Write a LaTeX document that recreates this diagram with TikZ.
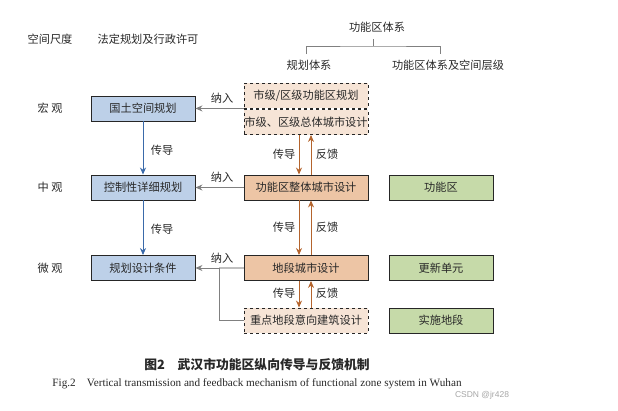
\documentclass[tikz,border=0pt]{standalone}
\usepackage{fontspec}
\setmainfont{Noto Sans CJK SC}
\newfontfamily\capfont{Liberation Serif}
\newfontfamily\markfont{Liberation Sans}
\usepackage{xcolor}
\definecolor{BlueFill}{RGB}{189,208,232}
\definecolor{BlueLine}{RGB}{58,106,170}
\definecolor{PeachFill}{RGB}{237,197,165}
\definecolor{PaleFill}{RGB}{246,228,214}
\definecolor{GreenFill}{RGB}{198,218,169}
\definecolor{OrangeLine}{RGB}{180,100,45}
\definecolor{TextCol}{RGB}{40,40,40}
\usepackage{tikz}
\usetikzlibrary{arrows.meta}
\tikzstyle{Box}=[draw=black!85,line width=0.9pt,minimum height=25pt,
inner sep=0pt,font=\fontsize{11.2}{12}\selectfont,text=TextCol]
\tikzstyle{BlueBox}=[Box,fill=BlueFill,minimum width=104pt]
\tikzstyle{PeachBox}=[Box,fill=PeachFill,minimum width=124pt]
\tikzstyle{DashBox}=[Box,fill=PaleFill,dashed,minimum width=124pt]
\tikzstyle{GreenBox}=[Box,fill=GreenFill,minimum width=104pt]
\tikzstyle{Label}=[inner sep=0pt,text=TextCol,font=\fontsize{11.2}{12}\selectfont]
\tikzstyle{Down}=[draw=BlueLine,line width=0.9pt,
-{Stealth[length=7pt,width=6pt]}]
\tikzstyle{Feed}=[draw=OrangeLine,line width=0.9pt,
-{Stealth[length=7pt,width=6pt]}]
\tikzstyle{Take}=[draw=gray,line width=0.9pt,
-{Stealth[length=7pt,width=6pt]}]
\tikzstyle{Fork}=[draw=gray,line width=0.7pt]

\begin{document}
\begin{tikzpicture}[x=1pt,y=-1pt]
        \useasboundingbox(0,0)rectangle(618,410);
        % headings
        \node[Label](scale)at(50,39){空间尺度};
        \node[Label](legal)at(148,39){法定规划及行政许可};
        \node[Label](sys)at(377,27){功能区体系};
        \node[Label](plan)at(309,65){规划体系};
        \node[Label](level)at(448,65){功能区体系及空间层级};
        \coordinate(fork)at(373,46);
        \coordinate(forkl)at(306,54);
        \coordinate(forkr)at(440,54);
        \draw[Fork](373,39)--(fork);
        \draw[Fork](forkl)|-(fork)-|(forkr);
        % levels
        \node[Label](macro)at(50,108.5){宏\ 观};
        \node[Label](meso)at(50,187.5){中\ 观};
        \node[Label](micro)at(50,268){微\ 观};
        % statutory plans
        \node[BlueBox](b1)at(143,108.5){国土空间规划};
        \node[BlueBox](b2)at(143,187.5){控制性详细规划};
        \node[BlueBox](b3)at(143,268){规划设计条件};
        % planning system
        \node[DashBox](t1)at(306,95.5){市级/区级功能区规划};
        \node[DashBox](t2)at(306,122){市级、区级总体城市设计};
        \node[PeachBox](f)at(306,187.5){功能区整体城市设计};
        \node[PeachBox](d)at(306,268){地段城市设计};
        \node[DashBox](z)at(306,320.5){重点地段意向建筑设计};
        % zones
        \node[GreenBox](g1)at(441,187.5){功能区};
        \node[GreenBox](g2)at(441,268){更新单元};
        \node[GreenBox](g3)at(441,320.5){实施地段};
        % transmission
        \draw[Down](b1)--(b2);
        \draw[Down](b2)--(b3);
        \node[Label]at(162,150){传导};
        \node[Label]at(162,229){传导};
        % incorporation
        \draw[Take](t1.south west)--(t1.south west-|b1.east);
        \draw[Take](f)--(b2);
        \coordinate(j)at(219,268);
        \draw[gray!50,line width=1.6pt](d.west)--(j);
        \draw[Take](z.west)-|(j)--(b3.east);
        \node[Label]at(222,98){纳入};
        \node[Label]at(222,177){纳入};
        \node[Label]at(222,258){纳入};
        % transmission and feedback
        \draw[Feed]([xshift=-7pt]t2.south)--([xshift=-7pt]f.north);
        \draw[Feed]([xshift=5pt]f.north)--([xshift=5pt]t2.south);
        \draw[Feed]([xshift=-7pt]f.south)--([xshift=-7pt]d.north);
        \draw[Feed]([xshift=5pt]d.north)--([xshift=5pt]f.south);
        \draw[Feed]([xshift=-7pt]d.south)--([xshift=-7pt]z.north);
        \draw[Feed]([xshift=5pt]z.north)--([xshift=5pt]d.south);
        \node[Label]at(284,154){传导};
        \node[Label]at(327,154){反馈};
        \node[Label]at(284,227){传导};
        \node[Label]at(327,227){反馈};
        \node[Label]at(284,293){传导};
        \node[Label]at(327,293){反馈};
        % captions
        \node[Label,font=\fontsize{12.8}{14}\selectfont\bfseries](cap)
            at(257,365){图2\hspace{1em}武汉市功能区纵向传导与反馈机制};
        \node[Label,font=\capfont\fontsize{11.2}{13}\selectfont](capen)
            at(257,384){Fig.2\hspace{1em}Vertical transmission and feedback
            mechanism of functional zone system in Wuhan};
        \node[inner sep=0pt,text=gray!70,font=\markfont\fontsize{8.5}{10}\selectfont]
            (mark)at(482,395){CSDN @jr428};
    \end{tikzpicture}
\end{document}
